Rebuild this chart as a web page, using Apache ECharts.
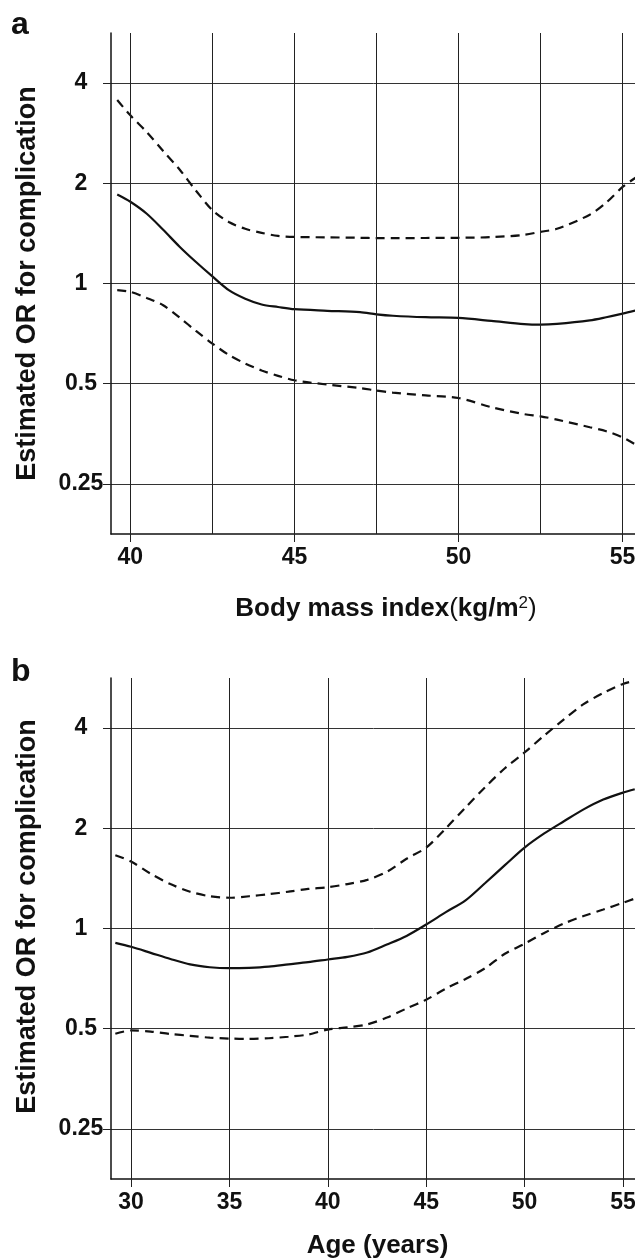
<!DOCTYPE html>
<html><head><meta charset="utf-8">
<script src="https://cdn.jsdelivr.net/npm/echarts@6/dist/echarts.min.js"></script>
<style>html,body{margin:0;padding:0;background:#fff}#c{width:635px;height:1259px}</style>
</head><body><div id="c"></div>
<script>
// ---- Panel a: Body mass index ----
const bmi =      [39.6, 40, 40.5, 41, 41.5, 42, 42.5, 43, 43.5, 44, 44.5, 45, 46, 47, 47.5, 48, 49, 50, 51, 52, 52.5, 53, 54, 54.5, 55, 55.4];
const bmiOR =    [1.85, 1.76, 1.62, 1.45, 1.29, 1.16, 1.05, 0.955, 0.90, 0.865, 0.85, 0.837, 0.828, 0.82, 0.808, 0.80, 0.792, 0.788, 0.772, 0.755, 0.752, 0.756, 0.775, 0.792, 0.812, 0.83];
const bmiUpper = [3.56, 3.2, 2.85, 2.5, 2.2, 1.9, 1.66, 1.53, 1.46, 1.42, 1.39, 1.38, 1.376, 1.372, 1.369, 1.369, 1.37, 1.372, 1.378, 1.40, 1.43, 1.46, 1.61, 1.75, 1.95, 2.08];
const bmiLower = [0.955, 0.944, 0.905, 0.86, 0.79, 0.72, 0.66, 0.61, 0.575, 0.548, 0.528, 0.512, 0.497, 0.485, 0.477, 0.47, 0.461, 0.453, 0.425, 0.405, 0.399, 0.39, 0.37, 0.36, 0.345, 0.328];
const bmiTicks = [40, 45, 50, 55];
const bmiGridLines = [40, 42.5, 45, 47.5, 50, 52.5, 55];

// ---- Panel b: Age ----
const age =      [29.2, 30, 31, 32, 33, 34, 35, 36, 37, 38, 39, 40, 41, 42, 43, 44, 45, 46, 47, 48, 49, 50, 51, 52, 53, 54, 55, 55.6];
const ageOR =    [0.905, 0.881, 0.845, 0.81, 0.78, 0.765, 0.76, 0.762, 0.768, 0.78, 0.792, 0.807, 0.822, 0.847, 0.895, 0.95, 1.028, 1.12, 1.215, 1.37, 1.55, 1.75, 1.93, 2.1, 2.28, 2.44, 2.56, 2.62];
const ageUpper = [1.66, 1.59, 1.46, 1.36, 1.29, 1.25, 1.237, 1.25, 1.268, 1.29, 1.315, 1.33, 1.36, 1.40, 1.48, 1.62, 1.75, 2.0, 2.31, 2.66, 3.03, 3.38, 3.8, 4.25, 4.72, 5.1, 5.43, 5.55];
const ageLower = [0.483, 0.494, 0.49, 0.482, 0.476, 0.47, 0.467, 0.466, 0.468, 0.473, 0.48, 0.497, 0.505, 0.515, 0.54, 0.575, 0.611, 0.66, 0.705, 0.76, 0.84, 0.9, 0.97, 1.035, 1.09, 1.14, 1.195, 1.23];
const ageTicks = [30, 35, 40, 45, 50, 55];

// ---- shared ----
const orTicks = [0.25, 0.5, 1, 2, 4];
const yTitle = 'Estimated OR for complication';

const FONT = 'Liberation Sans';
const pairs = (xs, ys) => xs.map((x, i) => [x, Math.log2(ys[i])]);
const logTicks = orTicks.map(v => Math.log2(v));

function yAxisCfg(gridIndex, padBottom) {
  return {
    gridIndex, type: 'value', min: -2.5, max: 2.5,
    axisLine: { show: true, lineStyle: { color: '#111', width: 1.5 } },
    axisTick: { show: true, customValues: logTicks, length: 8, lineStyle: { color: '#222', width: 1 } },
    axisLabel: { customValues: logTicks, formatter: v => String(Math.pow(2, v)), align: 'center', margin: 30,
      fontFamily: FONT, fontWeight: 'bold', fontSize: 23, color: '#111' },
    splitLine: { show: true, lineStyle: { color: '#333', width: 1 } },
    name: yTitle, nameLocation: 'middle', nameGap: 70,
    nameTextStyle: { fontFamily: FONT, fontWeight: 'bold', fontSize: 27, color: '#111', padding: [0, 0, 0, padBottom] }
  };
}
function xAxisCfg(gridIndex, min, max, ticks, name, nameGap) {
  return {
    gridIndex, type: 'value', min, max,
    axisLine: { show: true, onZero: false, lineStyle: { color: '#111', width: 1.5 } },
    axisTick: { show: true, customValues: ticks, length: 8, lineStyle: { color: '#222', width: 1 } },
    axisLabel: { customValues: ticks, margin: 12, fontFamily: FONT, fontWeight: 'bold', fontSize: 23, color: '#111' },
    splitLine: { show: false },
    name, nameLocation: 'middle', nameGap,
    nameTextStyle: {
      fontFamily: FONT, fontWeight: 'bold', fontSize: 26, color: '#111',
      rich: {
        b: { fontFamily: FONT, fontWeight: 'bold', fontSize: 26, color: '#111' },
        n: { fontFamily: FONT, fontWeight: 'normal', fontSize: 26, color: '#111' },
        s: { fontFamily: FONT, fontWeight: 'normal', fontSize: 17, color: '#111', verticalAlign: 'top', padding: [0, 0, 10, 0] }
      }
    }
  };
}
function curve(xi, yi, data, dashed) {
  return {
    type: 'line', xAxisIndex: xi, yAxisIndex: yi, data, smooth: 0.3, showSymbol: false, symbol: 'none',
    lineStyle: { color: '#111', width: 2.2, type: dashed ? [9, 6] : 'solid' }, z: 3, silent: true
  };
}
function gridLines(xi, yi, vals) {
  return {
    type: 'line', xAxisIndex: xi, yAxisIndex: yi, data: [], z: 1, silent: true,
    markLine: { silent: true, symbol: ['none', 'none'], label: { show: false }, animation: false,
      lineStyle: { type: 'solid', color: '#222', width: 1 },
      data: vals.map(v => ({ xAxis: v })) }
  };
}

const chart = echarts.init(document.getElementById('c'), null, { renderer: 'canvas' });
chart.setOption({
  animation: false,
  backgroundColor: '#fff',
  grid: [
    { left: 111, top: 33, right: -26, height: 501, outerBoundsMode: 'none', containLabel: false },
    { left: 111, top: 678, right: -9, height: 501, outerBoundsMode: 'none', containLabel: false }
  ],
  xAxis: [
    xAxisCfg(0, 39.41, 56.17, bmiTicks, '{b|Body mass index}{n|(}{b|kg/m}{s|2}{n|)}', 61),
    xAxisCfg(1, 28.98, 56.07, ageTicks, '{b|Age (years)}', 54)
  ],
  yAxis: [yAxisCfg(0, 0), yAxisCfg(1, 24)],
  series: [
    gridLines(0, 0, bmiGridLines),
    curve(0, 0, pairs(bmi, bmiUpper), true),
    curve(0, 0, pairs(bmi, bmiOR), false),
    curve(0, 0, pairs(bmi, bmiLower), true),
    gridLines(1, 1, ageTicks),
    curve(1, 1, pairs(age, ageUpper), true),
    curve(1, 1, pairs(age, ageOR), false),
    curve(1, 1, pairs(age, ageLower), true)
  ],
  graphic: [
    { type: 'text', left: 11, top: 9, style: { text: 'a', fontFamily: FONT, fontWeight: 'bold', fontSize: 32, fill: '#111' } },
    { type: 'text', left: 11, top: 656, style: { text: 'b', fontFamily: FONT, fontWeight: 'bold', fontSize: 32, fill: '#111' } }
  ]
});
</script>
</body></html>
